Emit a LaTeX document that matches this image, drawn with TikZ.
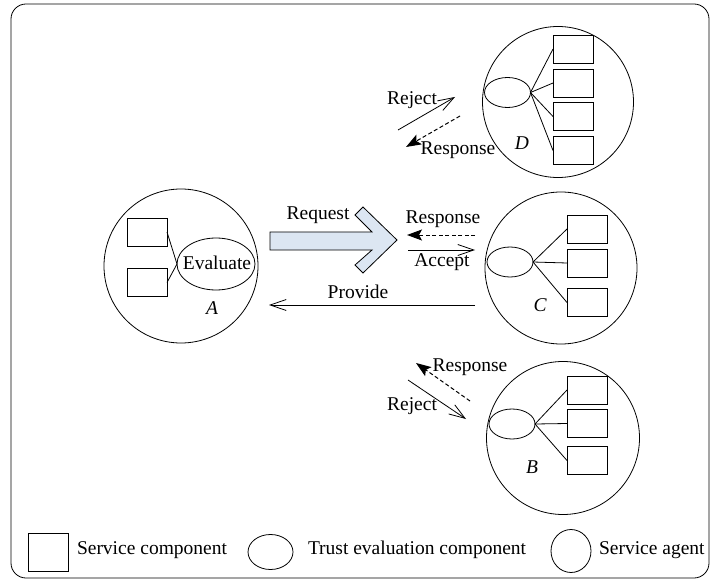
\documentclass[tikz,border=0pt]{standalone}
\usepackage{fontspec}
\setmainfont{Liberation Serif}
\usetikzlibrary{shapes.geometric,arrows.meta}
\definecolor{reqblue}{RGB}{220,230,242}
\begin{document}
\begin{tikzpicture}[x=1pt,y=-1pt,
  every node/.style={font=\fontsize{19.5}{23}\selectfont, inner sep=0pt, outer sep=0pt},
  agent/.style={circle, draw, line width=0.8pt, minimum size=#1},
  comp/.style={rectangle, draw, line width=0.8pt, minimum width=40pt, minimum height=28pt},
  tec/.style={ellipse, draw, line width=0.8pt, minimum width=46pt, minimum height=30pt},
  lbl/.style={font=\fontsize{19.5}{23}\selectfont\itshape},
  openarr/.style={line width=0.8pt, -{Straight Barb[length=16pt,width=11pt]}},
  resparr/.style={line width=1pt, dash pattern=on 4pt off 2.5pt, -{Stealth[length=15pt,width=11pt,inset=3pt]}},
  link/.style={line width=0.8pt}
]
\useasboundingbox (0,0) rectangle (712,580);
% frame
\draw[line width=0.8pt, rounded corners=15pt] (11,4) rectangle (709,578);

% ---------- Agent A ----------
\node[agent=154pt] (A) at (181,266) {};
\node[comp] (Ar1) at (147,232) {};
\node[comp] (Ar2) at (147,282.5) {};
\node[ellipse, draw, line width=0.8pt, minimum width=78pt, minimum height=52pt] (Aev) at (216,264) {};
\node (Aevt) at (217,263) {Evaluate};
\draw[link] (Ar1.east) -- (Aev.west);
\draw[link] (Ar2.east) -- (Aev.west);
\node[lbl] (Alab) at (212,308) {A};

% ---------- Agent D ----------
\node[agent=151pt] (D) at (558,102) {};
\node[tec] (Dev) at (507.5,92.5) {};
\node[comp] (Dr1) at (573,49) {};
\node[comp] (Dr2) at (573,83) {};
\node[comp] (Dr3) at (573,116.5) {};
\node[comp] (Dr4) at (573,150.5) {};
\foreach \r in {Dr1,Dr2,Dr3,Dr4} \draw[link] (Dev.east) -- (\r.west);
\node[lbl] (Dlab) at (522,143) {D};

% ---------- Agent C ----------
\node[agent=152pt] (C) at (561,268) {};
\node[tec] (Cev) at (510,262) {};
\node[comp] (Cr1) at (587,229) {};
\node[comp] (Cr2) at (587,263) {};
\node[comp] (Cr3) at (587,302.5) {};
\foreach \r in {Cr1,Cr2,Cr3} \draw[link] (Cev.east) -- (\r.west);
\node[lbl] (Clab) at (540,305) {C};

% ---------- Agent B ----------
\node[agent=153pt] (B) at (563,438) {};
\node[tec] (Bev) at (512,424) {};
\node[comp] (Br1) at (587,390) {};
\node[comp] (Br2) at (587,423.5) {};
\node[comp] (Br3) at (587,460.5) {};
\foreach \r in {Br1,Br2,Br3} \draw[link] (Bev.east) -- (\r.west);
\node[lbl] (Blab) at (532,467) {B};

% ---------- Request arrow ----------
\draw[line width=0.8pt, fill=reqblue, line join=miter]
  (270,232) -- (372,232) -- (355,215) -- (363,207) -- (397,240) -- (363,273) -- (355,265) -- (372,250) -- (270,250) -- cycle;
\node (tReq) at (318,215) {Request};

% ---------- A <-> C ----------
\coordinate (mrS) at (475,235);
\coordinate (mrE) at (407,235);
\draw[resparr] (mrS) -- (mrE);
\node (tRespC) at (443,219) {Response};
\coordinate (maS) at (408,250);
\coordinate (maE) at (475,250);
\draw[openarr] (maS) -- (maE);
\node (tAcc) at (442,262) {Accept};
\coordinate (mpS) at (475,305);
\coordinate (mpE) at (269,305);
\draw[openarr] (mpS) -- (mpE);
\node (tProv) at (358,292) {Provide};

% ---------- D arrows ----------
\coordinate (drS) at (398,130);
\coordinate (drE) at (455,97);
\draw[openarr] (drS) -- (drE);
\node (tRejD) at (412,100) {Reject};
\coordinate (dsS) at (460,116);
\coordinate (dsE) at (406,147);
\draw[resparr] (dsS) -- (dsE);
\node (tRespD) at (458,150) {Response};

% ---------- B arrows ----------
\coordinate (bsS) at (470,401);
\coordinate (bsE) at (416,363);
\draw[resparr] (bsS) -- (bsE);
\node (tRespB) at (470,367) {Response};
\coordinate (brS) at (408,380);
\coordinate (brE) at (466,419);
\draw[openarr] (brS) -- (brE);
\node (tRejB) at (412,406) {Reject};

% ---------- Legend ----------
\node[rectangle, draw, line width=0.8pt, minimum width=40pt, minimum height=38pt] (Lr) at (48.5,552) {};
\node[anchor=west] (Lrt) at (77,550) {Service component};
\node[ellipse, draw, line width=0.8pt, minimum width=45pt, minimum height=35pt] (Le) at (270.5,552) {};
\node[anchor=west] (Let) at (308,550) {Trust evaluation component};
\node[ellipse, draw, line width=0.8pt, minimum width=40pt, minimum height=43pt] (Lc) at (571,551) {};
\node[anchor=west] (Lct) at (599,550) {Service agent};
\end{tikzpicture}
\end{document}
